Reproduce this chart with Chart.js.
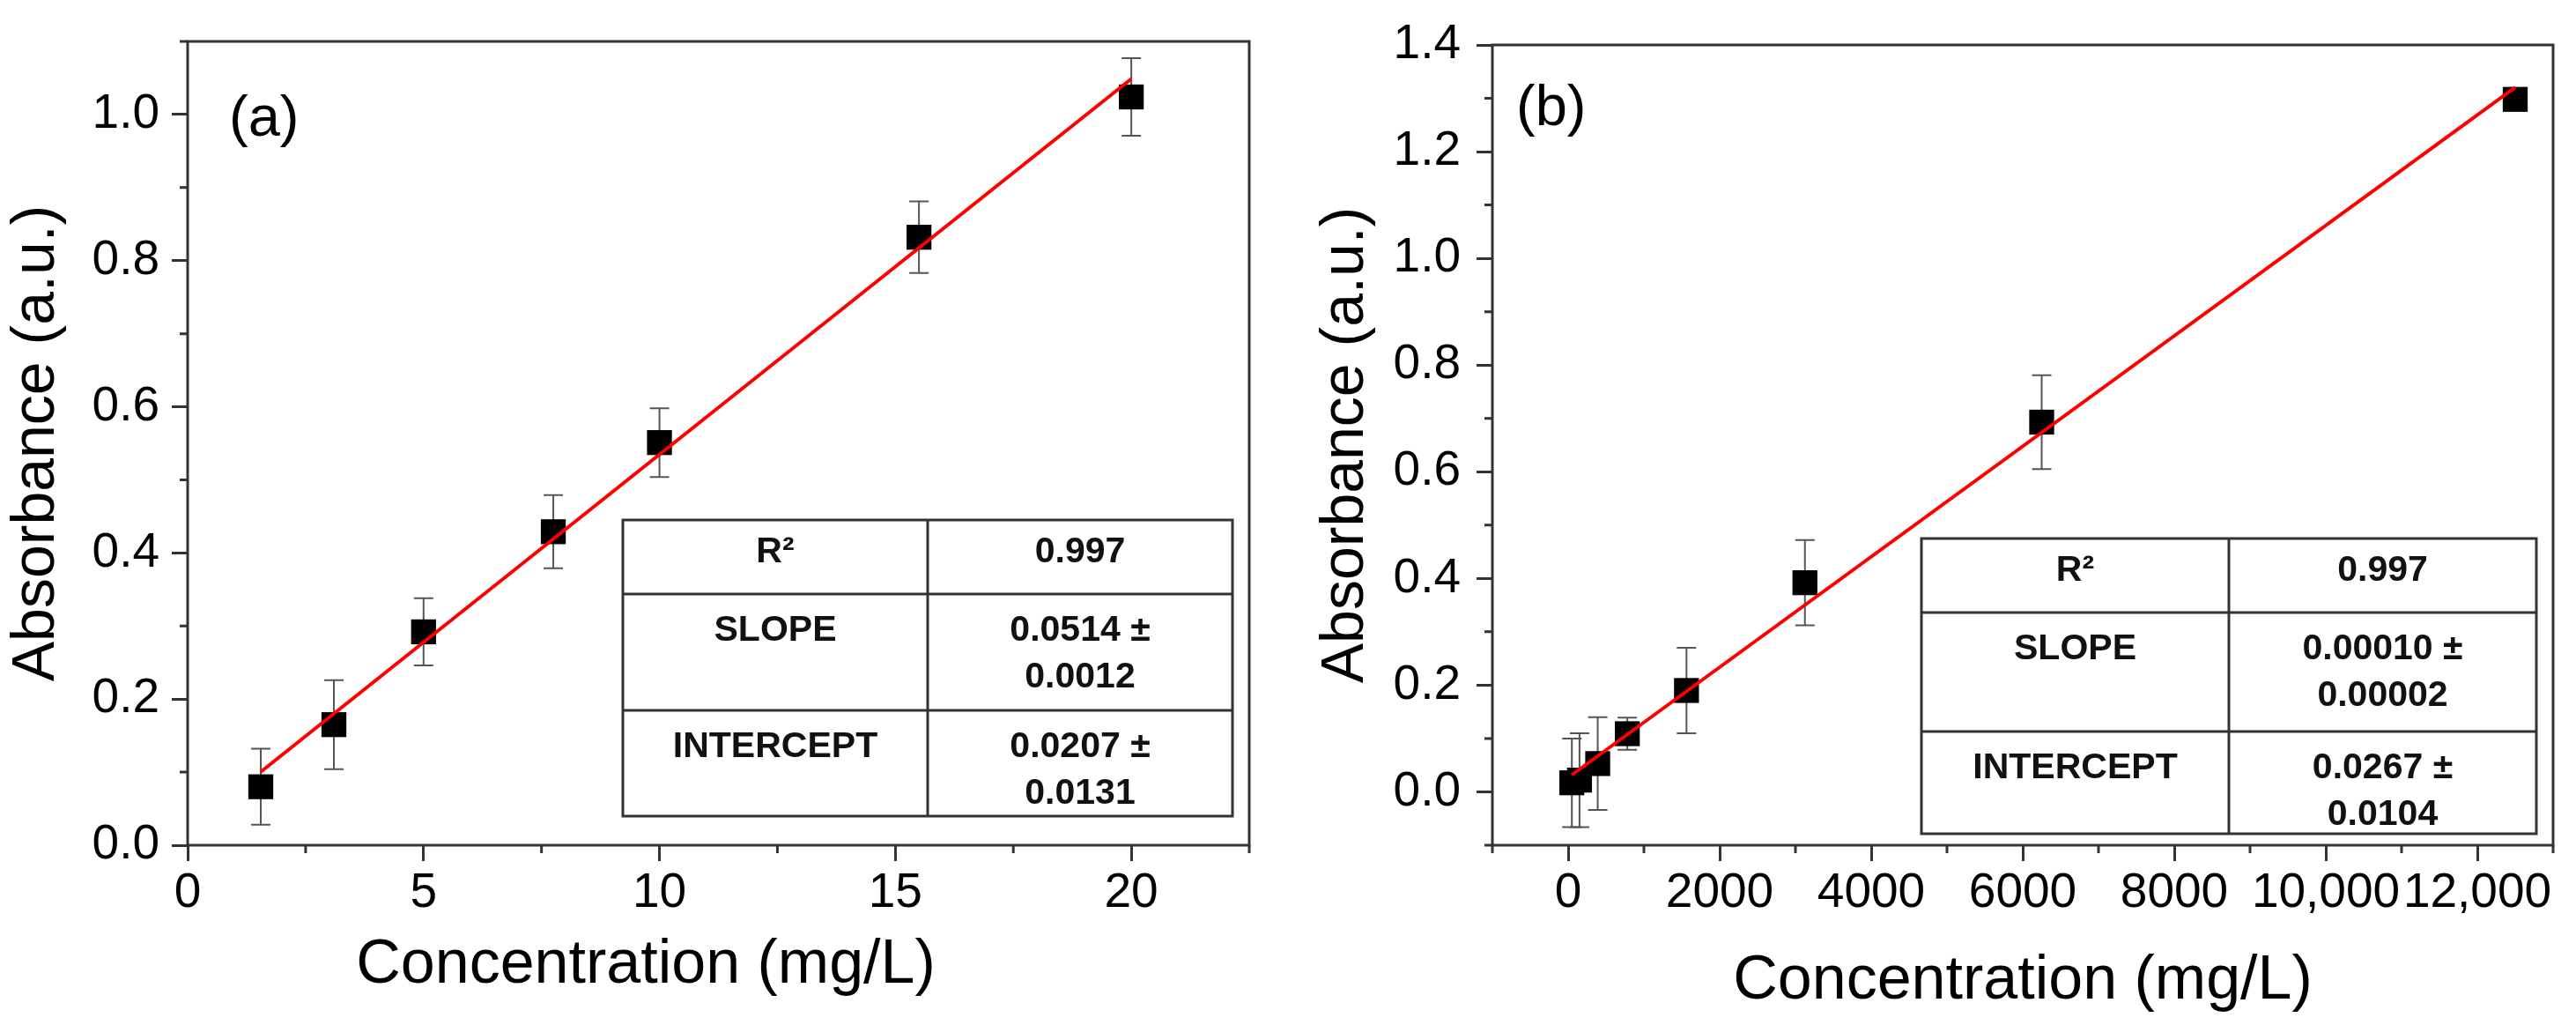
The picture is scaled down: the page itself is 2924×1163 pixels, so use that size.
<!DOCTYPE html>
<html>
<head>
<meta charset="utf-8">
<script src="https://cdn.jsdelivr.net/npm/chart.js@4.4.1/dist/chart.umd.min.js"></script>
<style>
html, body { margin: 0; padding: 0; background: #fff; }
#wrap { position: relative; width: 2924px; height: 1163px; }
.panel { position: absolute; top: 0; width: 1462px; height: 1163px; }
</style>
</head>
<body>
<div id="wrap">
  <div class="panel" style="left:0"><canvas id="chartA"></canvas></div>
  <div class="panel" style="left:1462px"><canvas id="chartB"></canvas></div>
</div>
<script>
// panel (a)
const concA = [1.55, 3.1, 5.0, 7.75, 10.0, 15.5, 20.0];
const absA = [0.080, 0.165, 0.292, 0.429, 0.551, 0.832, 1.024];
const errA = [0.052, 0.061, 0.046, 0.050, 0.047, 0.049, 0.053];
const slopeA = 0.0514;
const interceptA = 0.0207;
const xTickValuesA = [0, 5, 10, 15, 20];
const tableLabelsA = ['R²', 'SLOPE', 'INTERCEPT'];
const tableValuesA = [['0.997'], ['0.0514 ±', '0.0012'], ['0.0207 ±', '0.0131']];

// panel (b)
const concB = [48.8, 150, 390, 781, 1562, 3125, 6250, 12500];
const absB = [0.017, 0.022, 0.053, 0.109, 0.190, 0.392, 0.693, 1.298];
const errB = [0.083, 0.088, 0.087, 0.030, 0.080, 0.080, 0.088, 0.006];
const slopeB = 0.0001035;
const interceptB = 0.0267;
const xTickValuesB = [0, 2000, 4000, 6000, 8000, 10000, 12000];
const xTickLabelsB = ['0', '2000', '4000', '6000', '8000', '10,000', '12,000'];
const tableLabelsB = ['R²', 'SLOPE', 'INTERCEPT'];
const tableValuesB = [['0.997'], ['0.00010 ±', '0.00002'], ['0.0267 ±', '0.0104']];

const yTickValuesA = [0, 0.2, 0.4, 0.6, 0.8, 1.0];
const yTickValuesB = [0, 0.2, 0.4, 0.6, 0.8, 1.0, 1.2, 1.4];

const FONT = '"Liberation Sans", Arial, sans-serif';
const INK = '#333';

function makeDecor(cfg) {
  return {
    id: 'decor',
    beforeDatasetsDraw(chart) {
      const ctx = chart.ctx, xs = chart.scales.x, ys = chart.scales.y;
      ctx.save();
      ctx.strokeStyle = '#555';
      ctx.lineWidth = 2;
      cfg.x.forEach((v, i) => {
        const px = xs.getPixelForValue(v);
        const top = ys.getPixelForValue(cfg.y[i] + cfg.err[i]);
        const bot = ys.getPixelForValue(cfg.y[i] - cfg.err[i]);
        ctx.beginPath();
        ctx.moveTo(px, top); ctx.lineTo(px, bot);
        ctx.moveTo(px - 11, top); ctx.lineTo(px + 11, top);
        ctx.moveTo(px - 11, bot); ctx.lineTo(px + 11, bot);
        ctx.stroke();
      });
      ctx.restore();
    },
    afterDraw(chart) {
      const ctx = chart.ctx, a = chart.chartArea;
      const xs = chart.scales.x, ys = chart.scales.y;
      ctx.save();
      // frame
      ctx.strokeStyle = INK;
      ctx.lineWidth = 3;
      ctx.strokeRect(a.left, a.top, a.right - a.left, a.bottom - a.top);
      // minor ticks, halfway between the major ones
      ctx.beginPath();
      const xStep = cfg.xStep / 2;
      for (let k = Math.ceil(xs.min / xStep - 1e-9); k <= Math.floor(xs.max / xStep + 1e-9); k++) {
        if (k % 2 === 0) continue;
        const px = xs.getPixelForValue(k * xStep);
        ctx.moveTo(px, a.bottom); ctx.lineTo(px, a.bottom + 9);
      }
      const yStep = 0.1;
      for (let k = Math.ceil(ys.min / yStep - 1e-9); k <= Math.floor(ys.max / yStep + 1e-9); k++) {
        if (k % 2 === 0) continue;
        const py = ys.getPixelForValue(k * yStep);
        ctx.moveTo(a.left, py); ctx.lineTo(a.left - 9, py);
      }
      ctx.stroke();
      // panel tag
      ctx.fillStyle = '#000';
      ctx.font = '65px ' + FONT;
      ctx.textAlign = 'left';
      ctx.textBaseline = 'middle';
      ctx.fillText(cfg.tag, a.left + cfg.tagDx, a.top + cfg.tagDy);
      // x title drawn by hand when it is off-centre
      if (cfg.xTitle) {
        ctx.font = '70px ' + FONT;
        ctx.textAlign = 'center';
        ctx.fillText(cfg.xTitle, a.left + cfg.xTitleDx, a.bottom + cfg.xTitleDy);
      }
      // fit table
      const t = cfg.table;
      const left = a.left + t.dl, right = a.right - t.dr;
      const top = a.top + t.dt, bottom = a.bottom - t.db;
      const col = left + t.col;
      const rowTops = [top, top + t.rows[0], top + t.rows[0] + t.rows[1]];
      ctx.fillStyle = '#fff';
      ctx.fillRect(left, top, right - left, bottom - top);
      ctx.strokeStyle = INK;
      ctx.lineWidth = 3;
      ctx.strokeRect(left, top, right - left, bottom - top);
      ctx.beginPath();
      ctx.moveTo(col, top); ctx.lineTo(col, bottom);
      ctx.moveTo(left, rowTops[1]); ctx.lineTo(right, rowTops[1]);
      ctx.moveTo(left, rowTops[2]); ctx.lineTo(right, rowTops[2]);
      ctx.stroke();
      ctx.fillStyle = '#111';
      ctx.font = 'bold 41px ' + FONT;
      ctx.textAlign = 'center';
      ctx.textBaseline = 'top';
      const rowPad = [16, 21, 21];
      cfg.labels.forEach((lab, i) => {
        ctx.fillText(lab, (left + col) / 2, rowTops[i] + rowPad[i]);
        cfg.values[i].forEach((line, j) => {
          ctx.fillText(line, (col + right) / 2, rowTops[i] + rowPad[i] + j * 53);
        });
      });
      ctx.restore();
    }
  };
}

function fitLine(xs, slope, icpt) {
  const x0 = xs[0], x1 = xs[xs.length - 1];
  return [{x: x0, y: slope * x0 + icpt}, {x: x1, y: slope * x1 + icpt}];
}

function makeChart(id, p) {
  return new Chart(document.getElementById(id), {
    type: 'scatter',
    data: {
      datasets: [
        { type: 'line', data: fitLine(p.x, p.slope, p.icpt), borderColor: '#ff0000',
          borderWidth: 4, pointRadius: 0, fill: false },
        { data: p.x.map((v, i) => ({x: v, y: p.y[i]})), pointStyle: 'rect',
          pointRadius: 20, backgroundColor: '#000', borderWidth: 0 }
      ]
    },
    options: {
      animation: false,
      responsive: true,
      maintainAspectRatio: false,
      devicePixelRatio: 1,
      events: [],
      layout: { padding: p.padding },
      plugins: { legend: { display: false }, tooltip: { enabled: false } },
      scales: {
        x: {
          type: 'linear', min: p.xMin, max: p.xMax,
          afterBuildTicks: s => { s.ticks = p.xTicks.map(v => ({value: v})); },
          ticks: { autoSkip: false, maxRotation: 0, minRotation: 0, padding: 4, color: '#000',
                   font: { family: FONT, size: 55 }, callback: p.xLabel },
          grid: { drawOnChartArea: false, drawTicks: true, tickLength: 18, tickWidth: 3, tickColor: INK },
          border: { display: false },
          title: p.xTitle,
          afterFit: s => { s.height = 204; }
        },
        y: {
          type: 'linear', min: p.yMin, max: p.yMax,
          afterBuildTicks: s => { s.ticks = p.yTicks.map(v => ({value: v})); },
          ticks: { autoSkip: false, padding: p.yPad,
                   color: '#000', font: { family: FONT, size: 55 },
                   callback: v => v.toFixed(1) },
          grid: { drawOnChartArea: false, drawTicks: true, tickLength: 18, tickWidth: 3, tickColor: INK },
          border: { display: false },
          title: { display: true, text: 'Absorbance (a.u.)', color: '#000',
                   font: { family: FONT, size: 68 }, padding: { top: p.yTitlePad, bottom: 0 } },
          afterFit: s => { s.width = p.yWidth; }
        }
      }
    },
    plugins: [makeDecor(p.decor)]
  });
}

makeChart('chartA', {
  x: concA, y: absA, slope: slopeA, icpt: interceptA,
  padding: { left: 0, top: 36, right: 44, bottom: 0 },
  xMin: 0, xMax: 22.5, yMin: 0, yMax: 1.1,
  xTicks: xTickValuesA, yTicks: yTickValuesA,
  xLabel: v => String(v),
  xTitle: { display: false },
  yPad: 14, yWidth: 213, yTitlePad: 1,
  decor: {
    x: concA, y: absA, err: errA, xStep: 5, tag: '(a)', tagDx: 47, tagDy: 89,
    xTitle: 'Concentration (mg/L)', xTitleDx: 520, xTitleDy: 137,
    labels: tableLabelsA, values: tableValuesA,
    table: { dl: 494, dr: 19, dt: 543, db: 33, col: 346, rows: [84, 132] }
  }
});

makeChart('chartB', {
  x: concB, y: absB, slope: slopeB, icpt: interceptB,
  padding: { left: 0, top: 37, right: 26, bottom: 0 },
  xMin: -1000, xMax: 13000, yMin: -0.1, yMax: 1.4,
  xTicks: xTickValuesB, yTicks: yTickValuesB,
  xLabel: (v, i) => xTickLabelsB[i],
  xTitle: { display: true, text: 'Concentration (mg/L)', color: '#000',
            font: { family: FONT, size: 70 }, padding: { top: 0, bottom: 7 } },
  yPad: 18, yWidth: 232, yTitlePad: 25,
  decor: {
    x: concB, y: absB, err: errB, xStep: 2000, tag: '(b)', tagDx: 27, tagDy: 73,
    xTitle: null,
    labels: tableLabelsB, values: tableValuesB,
    table: { dl: 487, dr: 19, dt: 560, db: 13, col: 349, rows: [84, 135] }
  }
});
</script>
</body>
</html>
